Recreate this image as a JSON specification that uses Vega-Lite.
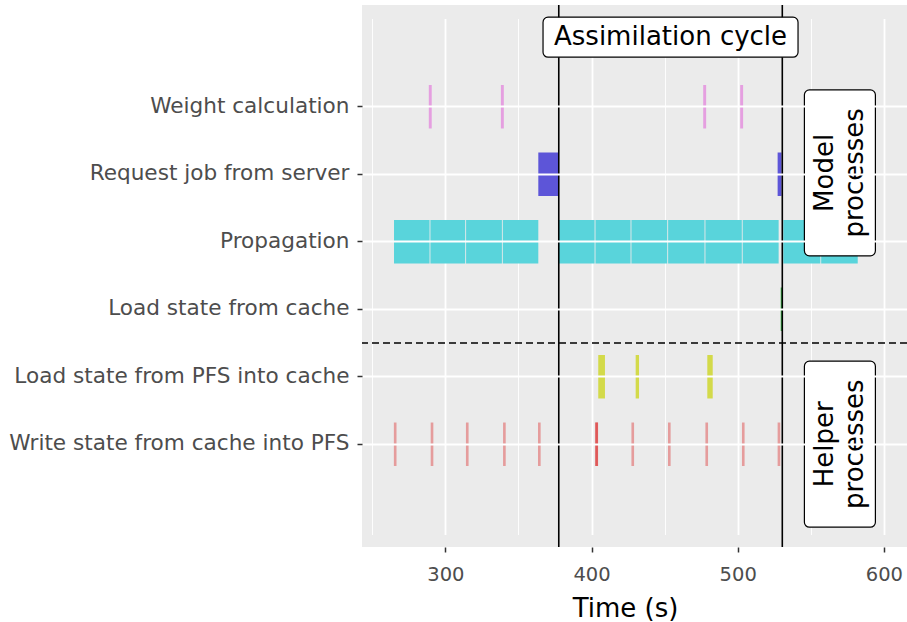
{
  "$schema": "https://vega.github.io/schema/vega-lite/v6.json",
  "width": 545,
  "height": 542,
  "autosize": {"type": "none"},
  "padding": {"left": 362, "top": 5, "right": 0, "bottom": 75},
  "background": "white",
  "config": {
    "view": {"fill": "#EBEBEB", "stroke": null},
    "font": "DejaVu Sans"
  },
  "datasets": {
    "tasks": [
      {"task": "Weight calculation", "start": 288.7, "end": 290.7},
      {"task": "Weight calculation", "start": 338.0, "end": 340.0},
      {"task": "Weight calculation", "start": 476.4, "end": 478.4},
      {"task": "Weight calculation", "start": 501.7, "end": 503.7},
      {"task": "Request job from server", "start": 363.6, "end": 377.6},
      {"task": "Request job from server", "start": 527.3, "end": 530.0},
      {"task": "Propagation", "start": 264.9, "end": 289.2},
      {"task": "Propagation", "start": 289.8, "end": 313.6},
      {"task": "Propagation", "start": 314.2, "end": 338.7},
      {"task": "Propagation", "start": 339.3, "end": 363.6},
      {"task": "Propagation", "start": 377.6, "end": 402.1},
      {"task": "Propagation", "start": 402.7, "end": 426.7},
      {"task": "Propagation", "start": 427.3, "end": 451.8},
      {"task": "Propagation", "start": 452.4, "end": 477.3},
      {"task": "Propagation", "start": 477.9, "end": 502.8},
      {"task": "Propagation", "start": 503.4, "end": 528.0},
      {"task": "Propagation", "start": 531.2, "end": 556.5},
      {"task": "Propagation", "start": 557.1, "end": 582.1},
      {"task": "Load state from cache", "start": 529.4, "end": 530.4},
      {"task": "Load state from PFS into cache", "start": 404.6, "end": 409.2},
      {"task": "Load state from PFS into cache", "start": 430.2, "end": 432.5},
      {"task": "Load state from PFS into cache", "start": 479.2, "end": 482.9},
      {"task": "Write state from cache into PFS", "start": 264.8, "end": 266.6},
      {"task": "Write state from cache into PFS", "start": 290.0, "end": 291.8},
      {"task": "Write state from cache into PFS", "start": 314.1, "end": 315.9},
      {"task": "Write state from cache into PFS", "start": 339.5, "end": 341.3},
      {"task": "Write state from cache into PFS", "start": 363.4, "end": 365.2},
      {"task": "Write state from cache into PFS", "start": 402.5, "end": 404.4},
      {"task": "Write state from cache into PFS", "start": 402.7, "end": 404.5},
      {"task": "Write state from cache into PFS", "start": 402.6, "end": 404.3},
      {"task": "Write state from cache into PFS", "start": 427.3, "end": 429.1},
      {"task": "Write state from cache into PFS", "start": 452.3, "end": 454.1},
      {"task": "Write state from cache into PFS", "start": 477.9, "end": 479.7},
      {"task": "Write state from cache into PFS", "start": 502.9, "end": 504.7},
      {"task": "Write state from cache into PFS", "start": 527.3, "end": 529.1}
    ],
    "cycle": [{"time": 377.6}, {"time": 530.5}],
    "groupSplit": [{"row": 2.5}],
    "cycleLabel": [{"label": "Assimilation cycle", "time": 454.05, "row": 7.03}],
    "groupLabels": [
      {"label": "Model\nprocesses", "time": 569.9, "row": 5.02},
      {"label": "Helper\nprocesses", "time": 569.9, "row": 1.0}
    ]
  },
  "layer": [
    {
      "data": {"name": "tasks"},
      "mark": {"type": "rect"},
      "encoding": {
        "x": {
          "field": "start", "type": "quantitative",
          "scale": {"domain": [243.0, 615.8], "nice": false, "zero": false},
          "axis": {
            "values": [250, 300, 350, 400, 450, 500, 550, 600],
            "title": "Time (s)",
            "titleFontSize": 26, "titleColor": "black", "titleFontWeight": "normal", "titlePadding": 12,
            "titleX": 263,
            "labelExpr": "datum.value % 100 === 0 ? datum.label : ''",
            "labelFontSize": 19.5, "labelColor": "#4D4D4D", "labelPadding": 13,
            "domain": false,
            "tickColor": "#333333", "tickSize": 5, "tickWidth": 1.5,
            "tickOpacity": {"expr": "datum.value % 100 === 0 ? 1 : 0"},
            "grid": true, "gridColor": "white",
            "gridWidth": {"expr": "datum.value % 100 === 0 ? 1.8 : 0.9"}
          }
        },
        "x2": {"field": "end"},
        "y": {
          "field": "task", "type": "nominal",
          "scale": {
            "domain": ["Weight calculation", "Request job from server", "Propagation", "Load state from cache", "Load state from PFS into cache", "Write state from cache into PFS"],
            "paddingInner": 0.356, "paddingOuter": 1,
            "range": [12.5, 528.5]
          },
          "axis": {
            "title": null, "bandPosition": 0.5,
            "labelFontSize": 21.6, "labelColor": "#4D4D4D", "labelPadding": 8, "labelLimit": 500,
            "domain": false,
            "tickColor": "#333333", "tickSize": 5, "tickWidth": 1.5,
            "grid": true, "gridColor": "white", "gridWidth": 1.8
          }
        },
        "color": {
          "field": "task", "type": "nominal", "legend": null,
          "scale": {
            "domain": ["Weight calculation", "Request job from server", "Propagation", "Load state from cache", "Load state from PFS into cache", "Write state from cache into PFS"],
            "range": ["#E59FE0", "#5D55D8", "#59D4DB", "#3DB54A", "#D3DA4A", "#DE3C3C"]
          }
        },
        "fillOpacity": {
          "condition": {"test": "datum.task === 'Write state from cache into PFS'", "value": 0.45},
          "value": 1
        }
      }
    },
    {
      "data": {"name": "cycle"},
      "mark": {"type": "rule", "color": "black", "strokeWidth": 1.6},
      "encoding": {"x": {"field": "time", "type": "quantitative"}}
    },
    {
      "data": {"name": "groupSplit"},
      "mark": {"type": "rule", "color": "black", "strokeWidth": 1.6, "strokeDash": [7, 4]},
      "encoding": {
        "y": {"field": "row", "type": "quantitative", "axis": null,
              "scale": {"domain": [-0.523, 7.507], "nice": false, "zero": false}}
      }
    },
    {
      "data": {"name": "cycleLabel"},
      "mark": {"type": "rect", "width": 255, "height": 40, "fill": "white", "stroke": "black", "strokeWidth": 1.2, "cornerRadius": 5},
      "encoding": {
        "x": {"field": "time", "type": "quantitative"},
        "y": {"field": "row", "type": "quantitative", "axis": null,
              "scale": {"domain": [-0.523, 7.507], "nice": false, "zero": false}}
      }
    },
    {
      "data": {"name": "cycleLabel"},
      "mark": {"type": "text", "fontSize": 26, "color": "black", "align": "center", "baseline": "middle"},
      "encoding": {
        "x": {"field": "time", "type": "quantitative"},
        "y": {"field": "row", "type": "quantitative", "axis": null,
              "scale": {"domain": [-0.523, 7.507], "nice": false, "zero": false}},
        "text": {"field": "label"}
      }
    },
    {
      "data": {"name": "groupLabels"},
      "mark": {"type": "rect", "width": 71, "height": 166, "fill": "white", "stroke": "black", "strokeWidth": 1.2, "cornerRadius": 5},
      "encoding": {
        "x": {"field": "time", "type": "quantitative"},
        "y": {"field": "row", "type": "quantitative", "axis": null,
              "scale": {"domain": [-0.523, 7.507], "nice": false, "zero": false}}
      }
    },
    {
      "data": {"name": "groupLabels"},
      "mark": {"type": "text", "fontSize": 26, "color": "black", "align": "center", "baseline": "middle", "angle": 270, "lineBreak": "\n", "lineHeight": 30, "dy": -15},
      "encoding": {
        "x": {"field": "time", "type": "quantitative"},
        "y": {"field": "row", "type": "quantitative", "axis": null,
              "scale": {"domain": [-0.523, 7.507], "nice": false, "zero": false}},
        "text": {"field": "label"}
      }
    }
  ],
  "resolve": {"scale": {"y": "independent", "color": "independent"}}
}
